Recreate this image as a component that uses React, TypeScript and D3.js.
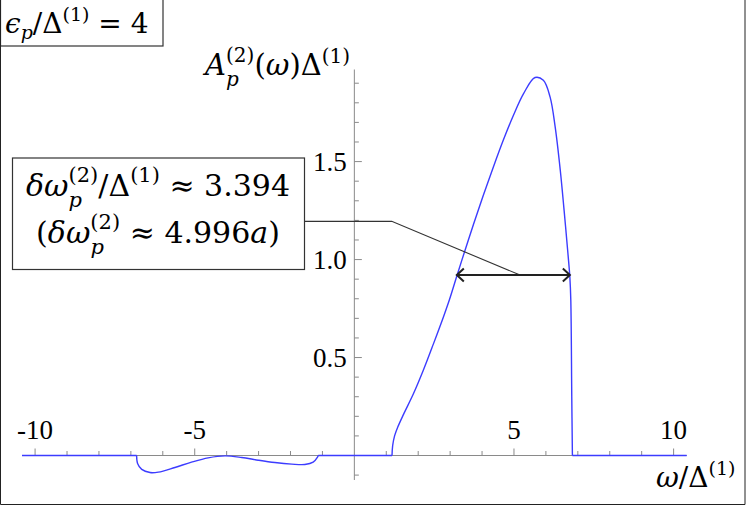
import React from 'react';
import * as d3 from 'd3';

// spectral function A_p^(2)(w) * Delta^(1)
const flatStart: [number, number][] = [[-10.41, 0]];
const dipCurve: [number, number][] = [
  [-6.82, 0], [-6.79, -0.041], [-6.66, -0.071], [-6.4, -0.087], [-6.14, -0.085],
  [-5.62, -0.061], [-5.1, -0.034], [-4.58, -0.012], [-4.05, -0.002], [-3.53, -0.01],
  [-3.01, -0.024], [-2.49, -0.036], [-1.96, -0.044], [-1.55, -0.046], [-1.29, -0.034],
  [-1.15, -0.007], [-1.13, 0],
];
const peakCurve: [number, number][] = [
  [1.18, 0], [1.2, 0.05], [1.26, 0.1], [1.36, 0.145], [1.54, 0.21], [1.85, 0.315], [2.16, 0.435],
  [2.48, 0.571], [2.79, 0.707], [2.98, 0.796], [3.21, 0.916], [3.47, 1.049], [3.73, 1.179],
  [4.04, 1.328], [4.36, 1.475], [4.67, 1.611], [4.98, 1.735], [5.3, 1.847], [5.66, 1.929],
  [5.92, 1.915], [6.13, 1.83], [6.29, 1.677], [6.45, 1.456], [6.57, 1.251], [6.69, 1.031],
  [6.75, 0.911], [6.78, 0.792], [6.81, 0.3], [6.83, 0],
];
const flatEnd: [number, number][] = [[10.41, 0]];

const xMajor = [-10, -5, 5, 10];
const xMajorLabels = ['-10', '-5', '5', '10'];
const xMinor = [-9, -8, -7, -6, -4, -3, -2, -1, 1, 2, 3, 4, 6, 7, 8, 9];
const yMajor = [0.5, 1.0, 1.5];
const yMajorLabels = ['0.5', '1.0', '1.5'];
const yMinor = [-0.1, 0.1, 0.2, 0.3, 0.4, 0.6, 0.7, 0.8, 0.9, 1.1, 1.2, 1.3, 1.4, 1.6, 1.7, 1.8, 1.9];

const xExtent = [-10.41, 10.41];
const yExtent = [-0.125, 1.97];

// width annotation: arrow and leader line (data units)
const widthArrow = { x1: 3.21, x2: 6.75, y: 0.921 };
const leader: [number, number][] = [[-1.58, 1.195], [1.17, 1.195], [5.19, 0.921]];

const W = 748;
const H = 506;
const serif = '"Liberation Serif", "Times New Roman", serif';
const mathFont = '"DejaVu Serif", "Liberation Serif", serif';
const blue = '#3c3cff';

type Seg = { t: string; it?: boolean; fs?: number; dx?: number; dy?: number };

function MathText({ x, y, fs, anchor, segs }: { x: number; y: number; fs: number; anchor?: string; segs: Seg[] }) {
  return (
    <text x={x} y={y} fontFamily={mathFont} fontSize={fs} textAnchor={anchor || 'start'} fill="#000">
      {segs.map((s, i) => (
        <tspan key={i} fontStyle={s.it ? 'italic' : 'normal'} fontSize={s.fs || fs} dx={s.dx || 0} dy={s.dy || 0}>
          {s.t}
        </tspan>
      ))}
    </text>
  );
}

export default function App() {
  const x = d3.scaleLinear().domain(xExtent).range([22, 686.7]);
  const y = d3.scaleLinear().domain(yExtent).range([480, 69.5]);

  const smooth = d3.line<[number, number]>()
    .x(d => x(d[0]))
    .y(d => y(d[1]))
    .curve(d3.curveCatmullRom.alpha(0.5));
  const straight = d3.line<[number, number]>()
    .x(d => x(d[0]))
    .y(d => y(d[1]));

  // flat parts drawn straight, bumps smoothed
  const pieces = [
    straight([...flatStart, dipCurve[0]]),
    smooth(dipCurve),
    straight([dipCurve[dipCurve.length - 1], peakCurve[0]]),
    smooth(peakCurve),
    straight([peakCurve[peakCurve.length - 1], ...flatEnd]),
  ];

  const axisColor = '#8a8a8a';
  const y0 = y(0);
  const x0 = x(0);
  const ay = y(widthArrow.y);
  const ax1 = x(widthArrow.x1);
  const ax2 = x(widthArrow.x2);

  return (
    <svg width={W} height={H} style={{ position: 'absolute', left: 0, top: 0, background: '#fff' }}>
      <rect x={0} y={0} width={W} height={H} fill="#fff" />

      {/* axes */}
      <line x1={x(xExtent[0])} x2={x(xExtent[1])} y1={y0} y2={y0} stroke={axisColor} strokeWidth={1} />
      <line x1={x0} x2={x0} y1={y(yExtent[0])} y2={y(yExtent[1])} stroke={axisColor} strokeWidth={1} />
      {xMinor.map(v => (
        <line key={'xm' + v} x1={x(v)} x2={x(v)} y1={y0} y2={y0 - 4.5} stroke={axisColor} />
      ))}
      {xMajor.map((v, i) => (
        <g key={'xM' + v}>
          <line x1={x(v)} x2={x(v)} y1={y0} y2={y0 - 7} stroke={axisColor} />
          <text x={x(v)} y={y0 - 17} textAnchor="middle" fontFamily={serif} fontSize={27}>{xMajorLabels[i]}</text>
        </g>
      ))}
      {yMinor.map(v => (
        <line key={'ym' + v} x1={x0} x2={x0 + 4.5} y1={y(v)} y2={y(v)} stroke={axisColor} />
      ))}
      {yMajor.map((v, i) => (
        <g key={'yM' + v}>
          <line x1={x0} x2={x0 + 7.5} y1={y(v)} y2={y(v)} stroke={axisColor} />
          <text x={x0 - 7.5} y={y(v)} dy="0.34em" textAnchor="end" fontFamily={serif} fontSize={27}>{yMajorLabels[i]}</text>
        </g>
      ))}

      {/* curve */}
      <path d={pieces.join('')} fill="none" stroke={blue} strokeWidth={1.4} />

      {/* width annotation */}
      <path d={straight(leader) || ''} fill="none" stroke="#333" strokeWidth={1.1} />
      <line x1={ax1} x2={ax2} y1={ay} y2={ay} stroke="#222" strokeWidth={2} />
      <path d={`M${ax1 + 7},${ay - 6.5}L${ax1},${ay}L${ax1 + 7},${ay + 6.5}`} fill="none" stroke="#222" strokeWidth={2} />
      <path d={`M${ax2 - 7},${ay - 6.5}L${ax2},${ay}L${ax2 - 7},${ay + 6.5}`} fill="none" stroke="#222" strokeWidth={2} />

      <rect x={12.5} y={158} width={292} height={111.5} fill="#fff" stroke="#333" strokeWidth={1.2} />
      <MathText x={158} y={196} fs={30} anchor="middle" segs={[
        { t: 'δω', it: true },
        { t: '(2)', fs: 21, dy: -14 },
        { t: 'p', it: true, fs: 21, dx: -29.7, dy: 25 },
        { t: '/Δ', dx: 16.3, dy: -11 },
        { t: '(1)', fs: 21, dy: -14 },
        { t: ' ≈ 3.394', dy: 14 },
      ]} />
      <MathText x={158} y={243} fs={30} anchor="middle" segs={[
        { t: '(' },
        { t: 'δω', it: true },
        { t: '(2)', fs: 21, dy: -14 },
        { t: 'p', it: true, fs: 21, dx: -29.7, dy: 25 },
        { t: ' ≈ 4.996', dx: 16.3, dy: -11 },
        { t: 'a', it: true },
        { t: ')' },
      ]} />

      {/* epsilon label */}
      <rect x={0.5} y={-1} width={162.5} height={47} fill="#fff" stroke="#333" strokeWidth={1.2} />
      <MathText x={5} y={33} fs={28} segs={[
        { t: 'ϵ', it: true },
        { t: 'p', it: true, fs: 19, dy: 6 },
        { t: '/Δ', dy: -6 },
        { t: '(1)', fs: 19, dy: -12 },
        { t: ' = 4', dy: 12 },
      ]} />

      {/* axis labels */}
      <MathText x={350} y={75} fs={29} anchor="end" segs={[
        { t: 'A', it: true },
        { t: '(2)', fs: 20, dy: -13 },
        { t: 'p', it: true, fs: 20, dx: -28.3, dy: 24 },
        { t: '(', dx: 15.5, dy: -11 },
        { t: 'ω', it: true },
        { t: ')Δ' },
        { t: '(1)', fs: 20, dy: -12 },
      ]} />
      <MathText x={656} y={487} fs={28} segs={[
        { t: 'ω', it: true },
        { t: '/Δ' },
        { t: '(1)', fs: 19, dy: -12 },
      ]} />

      {/* outer frame */}
      <line x1={0.5} x2={0.5} y1={0} y2={504.5} stroke="#222" />
      <line x1={0.5} x2={745} y1={504.5} y2={504.5} stroke="#222" />
      <line x1={745} x2={745} y1={0} y2={504.5} stroke="#222" />
    </svg>
  );
}
